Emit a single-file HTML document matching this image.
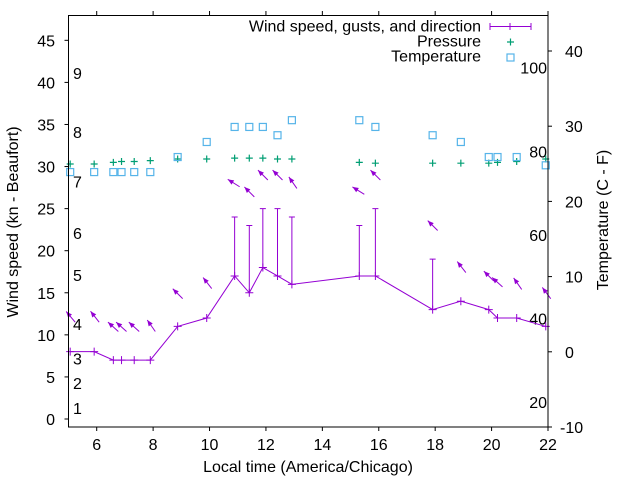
<!DOCTYPE html>
<html><head><meta charset="utf-8"><style>
html,body{margin:0;padding:0;background:#fff;}
svg{display:block;font-family:"Liberation Sans",sans-serif;}
</style></head><body>
<svg id="chart" width="640" height="480" viewBox="0 0 640 480" xmlns="http://www.w3.org/2000/svg">
<rect x="0" y="0" width="640" height="480" fill="#fff"/>
<g id="grid"></g>
<g id="marks"></g>
<rect x="68.5" y="15.5" width="479.5" height="411.5" fill="none" stroke="#000" stroke-width="1"/>
<text x="308" y="472" font-size="16" text-anchor="middle">Local time (America/Chicago)</text>
<text transform="translate(18,222) rotate(-90)" font-size="16" text-anchor="middle">Wind speed (kn - Beaufort)</text>
<text transform="translate(608,220) rotate(-90)" font-size="16" text-anchor="middle">Temperature (C - F)</text>
<g>
<text x="481" y="31.5" font-size="16" text-anchor="end">Wind speed, gusts, and direction</text>
<line x1="490" y1="26.5" x2="531" y2="26.5" stroke="#9400d3"/>
<line x1="490" y1="23" x2="490" y2="30" stroke="#9400d3"/>
<line x1="531" y1="23" x2="531" y2="30" stroke="#9400d3"/>
<line x1="510" y1="23" x2="510" y2="30" stroke="#9400d3"/>
<text x="481" y="46.5" font-size="16" text-anchor="end">Pressure</text>
<path d="M507 42h7M510.5 38.5v7" stroke="#009e73" stroke-width="1.2"/>
<text x="481" y="61.5" font-size="16" text-anchor="end">Temperature</text>
<rect x="507" y="54" width="7" height="7" fill="none" stroke="#56b4e9" stroke-width="1.2"/>
</g>
</svg>
<script>
const times=[5.06,5.91,6.59,6.88,7.33,7.9,8.87,9.9,10.89,11.41,11.89,12.41,12.92,15.31,15.88,17.91,18.91,19.9,20.21,20.89,21.92];
const wind=[8,8,7,7,7,7,11,12,17,15,18,17,16,17,17,13,14,13,12,12,11];
const gusts=[null,null,null,null,null,null,null,null,24,23,25,25,24,23,25,19,null,null,null,null,null];
const pressure=[30.3,30.3,30.5,30.6,30.6,30.7,30.9,30.9,31.0,31.0,31.0,30.9,30.9,30.5,30.4,30.4,30.4,30.4,30.5,30.6,30.9];
const tempC=[23.9,23.9,23.9,23.9,23.9,23.9,25.9,27.9,29.9,29.9,29.9,28.8,30.8,30.8,29.9,28.8,27.9,25.9,25.9,25.9,24.8];
const arrowLevel=[11.5,11.5,10.4,10.4,10.4,10.4,14.3,15.5,27.6,26.4,28.4,28.4,27.4,26.7,28.4,22.4,17.4,16.4,15.7,15.4,14.3];
const arrowBearing=[320,322,312,312,312,325,315,322,302,315,315,315,325,302,315,315,322,315,312,325,323];
const xTicks=[6,8,10,12,14,16,18,20,22];
const yTicks=[0,5,10,15,20,25,30,35,40,45];
const y2Ticks=[-10,0,10,20,30,40];
const fLabels=[20,40,60,80,100];
const beaufortLabels=["1","2","3","4","5","6","7","8","9"];
const beaufortLevels=[1.3,4.3,7.2,11.3,17.1,22.1,28.2,34.1,41.1];

const NS="http://www.w3.org/2000/svg";
const X=t=>68.5+(t-5)*(479.5/17);
const Y=v=>419-v*8.415;
const Y2=c=>427-(c+10)*7.52;
const g=document.getElementById('grid'), m=document.getElementById('marks');
function mk(tag,attrs,parent){const e=document.createElementNS(NS,tag);for(const k in attrs)e.setAttribute(k,attrs[k]);parent.appendChild(e);return e;}

xTicks.forEach(t=>{
  const l=mk('line',{x1:X(t),x2:X(t),y1:427,y2:431,stroke:'#000'},g);
  
  
  mk('line',{x1:X(t),x2:X(t),y1:15,y2:11,stroke:'#000'},g);
  const tx=mk('text',{x:X(t),y:450,'font-size':16,'text-anchor':'middle'},g);tx.textContent=t;
  
  
});
yTicks.forEach(v=>{
  mk('line',{x1:64.5,x2:68.5,y1:Y(v),y2:Y(v),stroke:'#000'},g);
  const tx=mk('text',{x:55,y:Y(v)+6,'font-size':16,'text-anchor':'end'},g);tx.textContent=v;
  
  
});
y2Ticks.forEach(c=>{
  mk('line',{x1:548,x2:552,y1:Y2(c),y2:Y2(c),stroke:'#000'},g);
  const tx=mk('text',{x:c<0?560:565,y:Y2(c)+6,'font-size':16},g);tx.textContent=c;
  
  
});
fLabels.forEach(f=>{
  const tx=mk('text',{x:547,y:Y2((f-32)*5/9)+6,'font-size':16,'text-anchor':'end'},g);tx.textContent=f;
  
  
});
beaufortLabels.forEach((b,i)=>{
  const tx=mk('text',{x:73,y:Y(beaufortLevels[i])+6,'font-size':16},g);tx.textContent=b;
  
  
});

const P='#9400d3';
const pl=mk('polyline',{points:times.map((t,i)=>X(t)+','+Y(wind[i])).join(' '),fill:'none',stroke:P},m);


times.forEach((t,i)=>{
  const x=X(t),y=Y(wind[i]);
  const p=mk('path',{d:`M${x-4} ${y}h8M${x} ${y-4}v8`,stroke:P},m);
  
  
  if(gusts[i]!=null){
    const gy=Y(gusts[i]);
    const gb=mk('path',{d:`M${x} ${y}V${gy}M${x-3} ${gy}h6`,stroke:P},m);
    
    
  }
  const py=Y(pressure[i]);
  const pp=mk('path',{d:`M${x-3.5} ${py}h7M${x} ${py-3.5}v7`,stroke:'#009e73','stroke-width':1.2},m);
  
  
  const ty=Y2(tempC[i]);
  const tr=mk('rect',{x:x-3.5,y:ty-3.5,width:7,height:7,fill:'none',stroke:'#56b4e9','stroke-width':1.2},m);
  
  
  const b=arrowBearing[i]*Math.PI/180, ux=Math.sin(b), uy=-Math.cos(b);
  const tx0=x+5, ty0=Y(arrowLevel[i]);
  const hx=tx0+14*ux, hy=ty0+14*uy;
  const px=-uy, py2=ux;
  const bx=hx-6*ux, by=hy-6*uy;
  const ag=mk('g',{},m);
  
  
  mk('line',{x1:tx0,y1:ty0,x2:hx,y2:hy,stroke:P},ag);
  mk('polygon',{points:`${hx},${hy} ${bx+2.5*px},${by+2.5*py2} ${bx-2.5*px},${by-2.5*py2}`,fill:P},ag);
});
</script>
</body></html>
